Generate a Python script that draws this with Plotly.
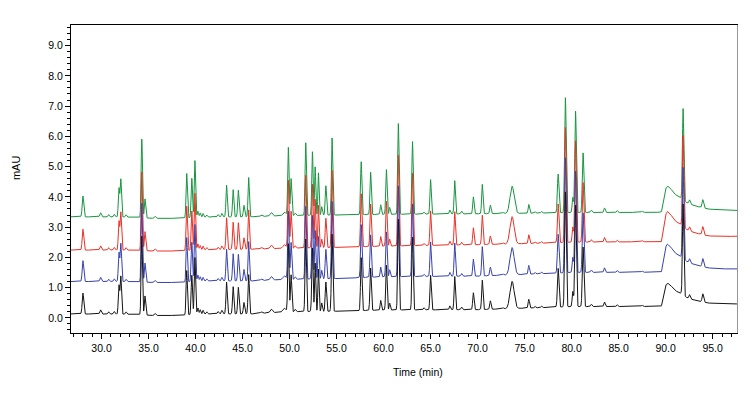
import numpy as np
import plotly.graph_objects as go

# ---------------- data ----------------
# Peak table (retention time in min, height above baseline in mAU, width sigma in min)
PEAK_TIMES = [28.02, 29.9, 30.75, 31.35, 31.85, 32.05, 32.6, 34.28, 34.62, 35.7,
              39.06, 39.6, 39.93, 40.25, 40.5, 40.8, 41.2, 42.4, 42.8,
              43.3, 44.0, 44.55, 45.15, 45.65, 47.0, 48.05, 49.45,
              49.87, 50.16, 50.6, 51.72, 52.43, 52.72, 53.07, 53.42, 53.86, 54.52,
              57.62, 58.62, 59.7, 60.3, 60.65, 61.57, 63.08, 64.3, 65.0,
              67.05, 67.57, 68.3, 69.55, 70.5, 71.36, 72.7, 73.67, 75.45, 76.1, 76.8,
              78.57, 79.34, 80.13, 80.42, 81.22, 82.1, 83.5, 84.84, 87.5,
              91.86, 92.55, 93.96]
PEAK_HEIGHTS = [0.69, 0.14, 0.08, 0.09, 0.95, 1.25, 0.08, 2.6, 0.63, 0.07,
                1.47, 1.3, 1.88, 0.2, 0.14, 0.12, 0.07, 0.08, 0.12,
                1.05, 0.9, 0.88, 0.38, 1.3, 0.05, 0.12, 0.12,
                2.25, 1.22, 0.08, 2.4, 2.1, 1.6, 1.4, 0.28, 0.97, 2.55,
                1.75, 1.4, 0.32, 1.48, 0.23, 3.0, 2.4, 0.07, 1.14,
                0.13, 1.1, 0.09, 0.56, 0.97, 0.28, 0.04, 0.9, 0.29, 0.05, 0.05,
                1.28, 3.8, 0.5, 3.35, 1.97, 0.08, 0.15, 0.06, 0.04,
                3.0, 0.13, 0.27]
PEAK_WIDTHS = [0.08, 0.08, 0.07, 0.07, 0.07, 0.07, 0.07, 0.07, 0.07, 0.07,
               0.07, 0.07, 0.07, 0.07, 0.06, 0.06, 0.06, 0.07, 0.07,
               0.07, 0.07, 0.07, 0.07, 0.07, 0.1, 0.12, 0.15,
               0.07, 0.07, 0.07, 0.07, 0.07, 0.06, 0.06, 0.06, 0.07, 0.07,
               0.07, 0.07, 0.06, 0.07, 0.06, 0.07, 0.07, 0.07, 0.07,
               0.07, 0.07, 0.07, 0.07, 0.07, 0.07, 0.08, 0.22, 0.07, 0.07, 0.07,
               0.08, 0.08, 0.07, 0.08, 0.08, 0.07, 0.07, 0.07, 0.07,
               0.07, 0.07, 0.08]

# Baseline levels of each trace at these times
BASE_TIMES = [26.75, 33.0, 35.5, 38.5, 40.5, 46.0, 49.5, 55.0, 60.0, 70.0, 76.0, 80.0, 89.5, 97.7]
BASE_BLACK = [0.13, 0.12, 0.08, 0.08, 0.13, 0.13, 0.20, 0.22, 0.26, 0.27, 0.33, 0.37, 0.38, 0.46]
BASE_BLUE = [1.20, 1.20, 1.17, 1.17, 1.22, 1.22, 1.27, 1.30, 1.36, 1.38, 1.45, 1.50, 1.51, 1.62]
BASE_RED = [2.24, 2.24, 2.21, 2.21, 2.25, 2.27, 2.30, 2.33, 2.37, 2.42, 2.46, 2.50, 2.52, 2.70]
BASE_GREEN = [3.34, 3.33, 3.29, 3.29, 3.33, 3.34, 3.38, 3.40, 3.42, 3.44, 3.46, 3.48, 3.49, 3.55]

# Broad hump near 90 min (relative rise above baseline)
HUMP_TIMES = [89.55, 89.75, 89.95, 90.2, 90.5, 90.9, 91.3, 91.7, 92.2, 92.8, 93.5, 94.5, 96.0, 97.7]
HUMP_VALUES = [0.0, 0.35, 0.75, 0.85, 0.78, 0.6, 0.5, 0.45, 0.3, 0.22, 0.15, 0.07, 0.02, 0.0]
HUMP_SCALE = {"black": 0.9, "blue": 1.08, "red": 1.15, "green": 1.02}

SERIES_NAMES = ["green", "red", "blue", "black"]
SERIES_COLORS = {"green": "rgb(22,150,62)", "red": "rgb(235,48,38)",
                 "blue": "rgb(55,65,172)", "black": "rgb(20,20,20)"}
SERIES_BASE = {"green": BASE_GREEN, "red": BASE_RED, "blue": BASE_BLUE, "black": BASE_BLACK}

X_RANGE = [26.75, 97.7]
Y_RANGE = [-0.5, 9.68]

# ---------------- build chromatograms from the peak table ----------------
t = np.arange(X_RANGE[0], X_RANGE[1] + 0.005, 0.01)
peaks = np.zeros_like(t)
for pt, ph, pw in zip(PEAK_TIMES, PEAK_HEIGHTS, PEAK_WIDTHS):
    peaks += ph * np.exp(-0.5 * ((t - pt) / pw) ** 2)
hump = np.interp(t, HUMP_TIMES, HUMP_VALUES, left=0.0, right=0.0)

fig = go.Figure()
for name in SERIES_NAMES:
    base = np.interp(t, BASE_TIMES, SERIES_BASE[name])
    y = base + HUMP_SCALE[name] * hump + peaks
    fig.add_trace(go.Scatter(x=t, y=y, mode="lines", name=name,
                             line=dict(color=SERIES_COLORS[name], width=1),
                             showlegend=False, hoverinfo="skip"))

FONT = "Liberation Sans, Arial, Helvetica, sans-serif"
fig.update_layout(
    width=738, height=386,
    margin=dict(l=63, r=8, t=17, b=61),
    paper_bgcolor="white", plot_bgcolor="white",
    font=dict(family=FONT, size=10.5, color="black"),
    xaxis=dict(range=X_RANGE, tickmode="linear", tick0=30, dtick=5, tickformat=".1f",
               ticks="outside", ticklen=5, tickcolor="black", tickwidth=1,
               showline=True, linecolor="black", linewidth=1, mirror=True,
               showgrid=False, zeroline=False,
               minor=dict(tick0=30, dtick=1, ticks="outside", ticklen=3,
                          tickcolor="black", showgrid=False),
               tickfont=dict(size=10.5)),
    yaxis=dict(range=Y_RANGE, tickmode="linear", tick0=0, dtick=1, tickformat=".1f",
               ticks="outside", ticklen=5, tickcolor="black", tickwidth=1,
               showline=True, linecolor="black", linewidth=1,
               showgrid=False, zeroline=False,
               minor=dict(tick0=0, dtick=0.2, ticks="outside", ticklen=3,
                          tickcolor="black", showgrid=False),
               tickfont=dict(size=10.5)),
    shapes=[dict(type="line", xref="paper", yref="paper", x0=1, x1=1, y0=0, y1=1,
                 line=dict(color="rgb(150,150,150)", width=2))],
    annotations=[
        dict(text="Time (min)", xref="paper", yref="paper", x=0.5195, y=-0.127,
             xanchor="center", yanchor="middle", showarrow=False,
             font=dict(family=FONT, size=10.5, color="black")),
        dict(text="mAU", xref="paper", yref="paper", x=-0.0832, y=0.537,
             xanchor="center", yanchor="middle", showarrow=False, textangle=-90,
             font=dict(family=FONT, size=11, color="black")),
    ],
)

fig.write_html("out.html")
